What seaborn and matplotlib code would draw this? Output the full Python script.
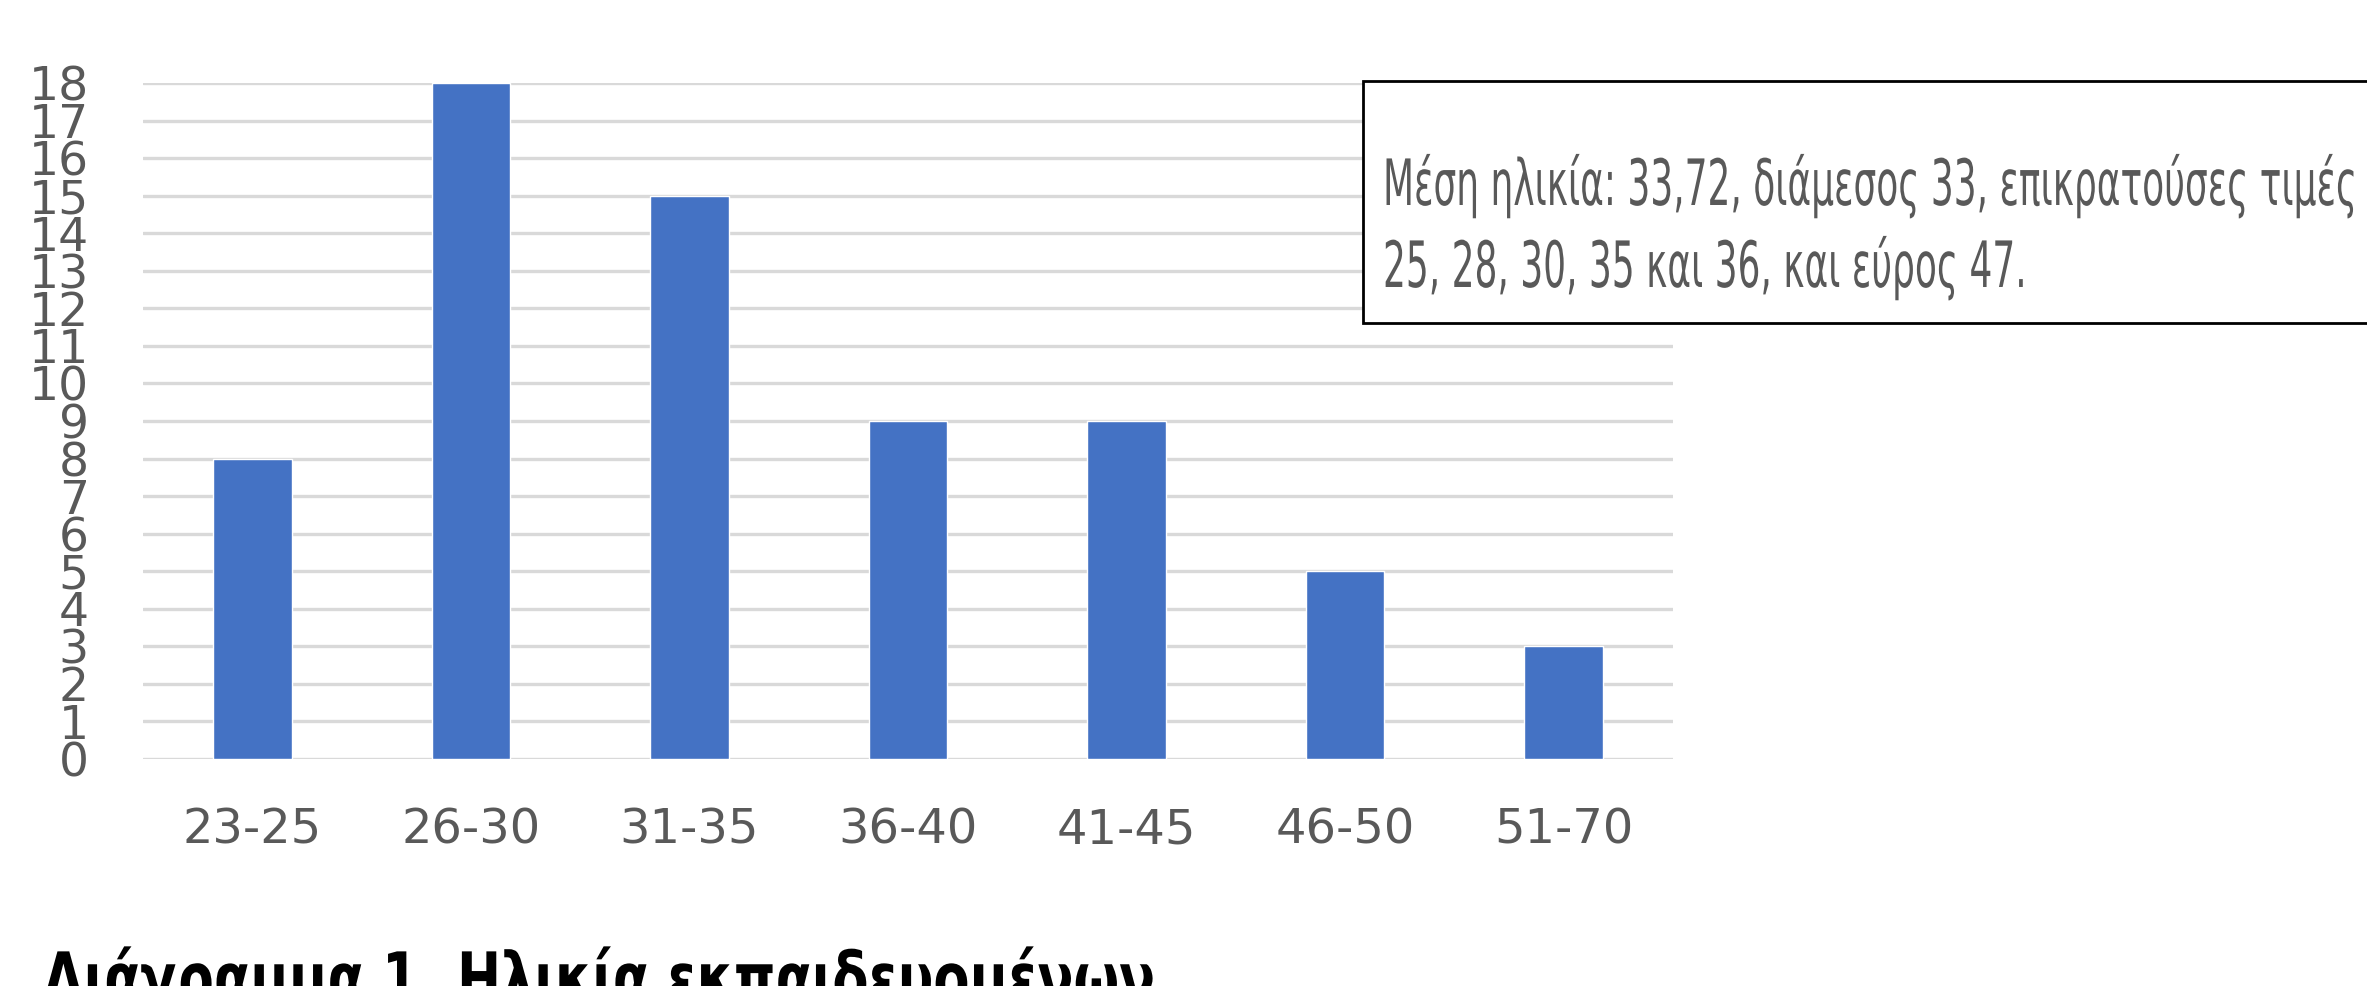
import matplotlib
matplotlib.use("Agg")
import matplotlib.pyplot as plt
import seaborn as sns
import pandas as pd
from matplotlib.patches import Rectangle
from matplotlib.patheffects import AbstractPathEffect
from matplotlib.transforms import Affine2D

categories = ["23-25", "26-30", "31-35", "36-40", "41-45", "46-50", "51-70"]
counts = [8, 18, 15, 9, 9, 5, 3]
y_ticks = list(range(0, 19))
note_lines = ["Μέση ηλικία: 33,72, διάμεσος 33, επικρατούσες τιμές",
              "25, 28, 30, 35 και 36, και εύρος 47."]
caption = "Διάγραμμα 1. Ηλικία εκπαιδευομένων"


class Squeeze(AbstractPathEffect):
    """Draw text glyphs narrower (condensed look) about the text's left origin."""
    def __init__(self, sx):
        super().__init__()
        self.sx = sx

    def draw_path(self, renderer, gc, tpath, affine, rgbFace=None):
        renderer.draw_path(gc, tpath, Affine2D().scale(self.sx, 1.0) + affine, rgbFace)


sns.set_theme(style="white")
plt.rcParams['font.family'] = ['DejaVu Sans']

W, H = 2367, 986
fig = plt.figure(figsize=(W / 100, H / 100), dpi=100)
ax = fig.add_axes([143 / W, 1 - 759 / H, (1673 - 143) / W, (759 - 83) / H])

df = pd.DataFrame({"age": categories, "n": counts})
sns.barplot(data=df, x="age", y="n", color="#4472C4", saturation=1, width=0.36, ax=ax, zorder=3)

ax.set_ylim(0, 18)
ax.set_xlim(-0.5, len(categories) - 0.5)
ax.set_yticks(y_ticks)
ax.set_yticklabels([str(v) for v in y_ticks])
ax.yaxis.grid(True, color="#D9D9D9", linewidth=2.4, zorder=0)
ax.set_axisbelow(True)
for s in ax.spines.values():
    s.set_visible(False)
ax.tick_params(axis="y", length=0, pad=39, labelsize=34, labelcolor="#595959")
ax.tick_params(axis="x", length=0, pad=34, labelsize=34.5, labelcolor="#595959")
ax.set_xlabel("")
ax.set_ylabel("")

# note box
fig.patches.append(Rectangle((1363 / W, 1 - 323 / H), 0.5, (323 - 81) / H,
                             transform=fig.transFigure, fill=True, facecolor="white",
                             edgecolor="black", linewidth=2.0, clip_on=False, zorder=5))
t1 = fig.text(1383 / W, 1 - 205 / H, note_lines[0], ha="left", va="baseline", fontsize=46,
              color="#595959", zorder=6)
t2 = fig.text(1383 / W, 1 - 287 / H, note_lines[1], ha="left", va="baseline", fontsize=46,
              color="#595959", zorder=6)

tc = fig.text(43 / W, 1 - 1003 / H, caption, ha="left", va="baseline", fontsize=51,
              fontweight="bold", color="black")

fig.canvas.draw()
r = fig.canvas.get_renderer()
w1 = t1.get_window_extent(r).width
sx_note = (2356 - 1383) / w1
t1.set_path_effects([Squeeze(sx_note)])
t2.set_path_effects([Squeeze(sx_note)])
wc = tc.get_window_extent(r).width
tc.set_path_effects([Squeeze((1155 - 43) / wc)])

fig.savefig("out.png", dpi=100)
